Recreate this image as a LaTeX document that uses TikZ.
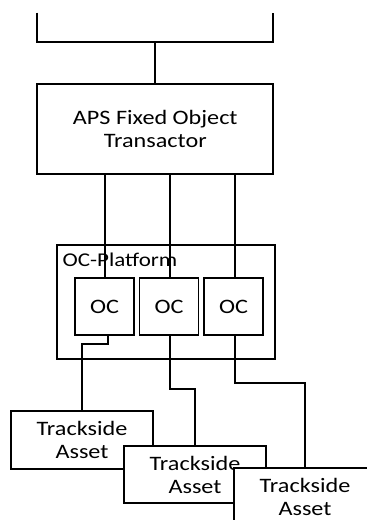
\documentclass[tikz,border=0pt]{standalone}
\usepackage{fontspec}
\setmainfont{Carlito}[FakeStretch=1.18]
\usetikzlibrary{calc}
\tikzset{
  box/.style={draw, line width=1.8pt, rectangle, inner sep=0pt, align=center,
    font=\fontsize{20.5}{23}\selectfont},
  asset/.style={box, fill=white, minimum width=142pt, minimum height=57.5pt},
  ocbox/.style={box, minimum width=59pt, minimum height=57pt},
  wire/.style={line width=1.8pt}
}
\begin{document}
\begin{tikzpicture}[x=1pt, y=-1pt]
  \clip (0,0) rectangle (367,520);
  \fill[white] (0,0) rectangle (367,520);

  % upper bus and the transactor
  \coordinate (busL) at (37.3,42.3);
  \coordinate (busR) at (273.3,42.3);
  \coordinate (busM) at (155.3,42.3);
  \draw[wire] (37.3,12.7) -- (busL) -- (busR) -- (273.3,12.7);
  \node[box, minimum width=236pt, minimum height=90.3pt] (aps) at (155.3,129.2)
    {APS Fixed Object\\Transactor};
  \draw[wire] (busM) -- (aps.north);

  % OC platform with three object controllers
  \node[box, line width=1.4pt, minimum width=218pt, minimum height=114pt] (plat) at (166,302) {};
  \node[anchor=base west, font=\fontsize{19.5}{23}\selectfont, inner sep=0pt] (platlbl) at (62.5,266.5) {OC-Platform};
  \node[ocbox] (oc1) at (104.5,306.5) {OC};
  \node[ocbox] (oc2) at (169,306.5) {OC};
  \node[ocbox] (oc3) at (233.5,306.5) {OC};

  \draw[wire] ([xshift=0.5pt]oc1.north |- aps.south) -- ([xshift=0.5pt]oc1.north);
  \draw[wire] ([xshift=1pt]oc2.north |- aps.south) -- ([xshift=1pt]oc2.north);
  \draw[wire] ([xshift=1.5pt]oc3.north |- aps.south) -- ([xshift=1.5pt]oc3.north);

  % trackside assets, each overlapping the previous one
  \node[asset] (ta1) at (82,440) {Trackside\\Asset};
  \node[asset] (ta2) at (195,474.5) {Trackside\\Asset};
  \node[asset] (ta3) at (305,497) {Trackside\\Asset};

  \draw[wire] ([xshift=3.5pt]oc1.south) -- ++(0,8) -| (ta1.north);
  \draw[wire] ([xshift=1pt]oc2.south) -- ++(0,53) -| (ta2.north);
  \draw[wire] ([xshift=1.5pt]oc3.south) -- ++(0,47) -| (ta3.north);
\end{tikzpicture}
\end{document}
